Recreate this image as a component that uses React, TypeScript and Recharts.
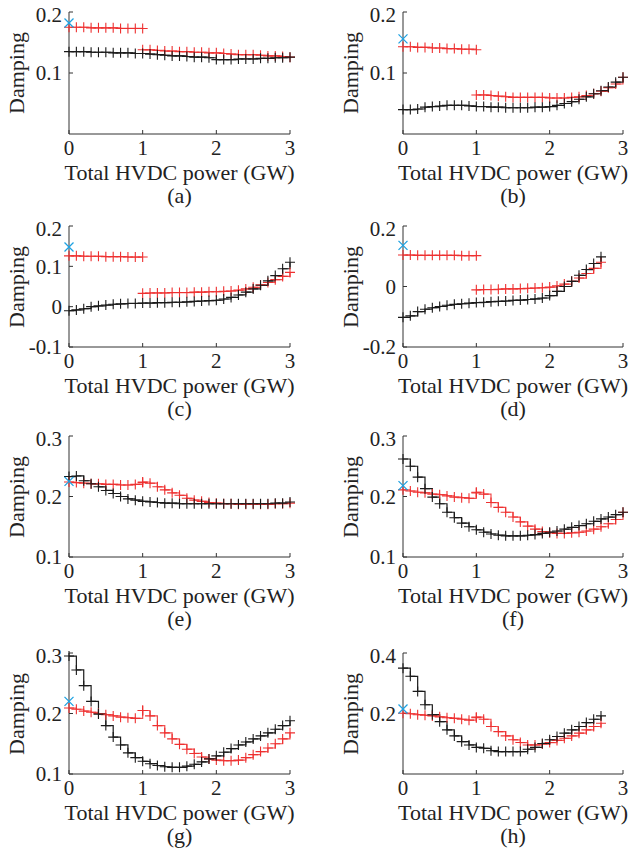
import React from 'react';
import { ComposedChart, Line, XAxis, YAxis } from 'recharts';

// x positions (GW)
const powerFull = [0, 0.1, 0.2, 0.3, 0.4, 0.5, 0.6, 0.7, 0.8, 0.9, 1.0, 1.1, 1.2, 1.3, 1.4, 1.5, 1.6, 1.7, 1.8, 1.9, 2.0, 2.1, 2.2, 2.3, 2.4, 2.5, 2.6, 2.7, 2.8, 2.9, 3.0];
const powerShort = [0, 0.1, 0.2, 0.3, 0.4, 0.5, 0.6, 0.7, 0.8, 0.9, 1.0, 1.1, 1.2, 1.3, 1.4, 1.5, 1.6, 1.7, 1.8, 1.9, 2.0, 2.1, 2.2, 2.3, 2.4, 2.5, 2.6, 2.7];
const powerLow = [0, 0.1, 0.2, 0.3, 0.4, 0.5, 0.6, 0.7, 0.8, 0.9, 1.0];
const powerHigh = [1.0, 1.1, 1.2, 1.3, 1.4, 1.5, 1.6, 1.7, 1.8, 1.9, 2.0, 2.1, 2.2, 2.3, 2.4, 2.5, 2.6, 2.7, 2.8, 2.9, 3.0];
const powerHighShort = [1.0, 1.1, 1.2, 1.3, 1.4, 1.5, 1.6, 1.7, 1.8, 1.9, 2.0, 2.1, 2.2, 2.3, 2.4, 2.5, 2.6, 2.7];

// (a)
const blackA = [0.135, 0.135, 0.135, 0.134, 0.134, 0.134, 0.133, 0.133, 0.133, 0.132, 0.132, 0.131, 0.130, 0.129, 0.128, 0.128, 0.127, 0.126, 0.126, 0.125, 0.122, 0.122, 0.122, 0.123, 0.123, 0.123, 0.124, 0.124, 0.125, 0.125, 0.126];
const redLowA = [0.175, 0.175, 0.175, 0.174, 0.174, 0.174, 0.174, 0.173, 0.173, 0.173, 0.173];
const redHighA = [0.138, 0.138, 0.137, 0.136, 0.136, 0.135, 0.135, 0.134, 0.134, 0.133, 0.133, 0.132, 0.131, 0.130, 0.130, 0.130, 0.129, 0.128, 0.128, 0.127, 0.126];
const blueA = 0.182;

// (b)
const blackB = [0.040, 0.040, 0.041, 0.044, 0.045, 0.046, 0.047, 0.047, 0.047, 0.046, 0.045, 0.045, 0.044, 0.044, 0.043, 0.043, 0.043, 0.043, 0.044, 0.044, 0.045, 0.047, 0.050, 0.053, 0.057, 0.061, 0.066, 0.071, 0.077, 0.085, 0.093];
const redLowB = [0.143, 0.143, 0.142, 0.142, 0.141, 0.141, 0.140, 0.140, 0.139, 0.139, 0.138];
const redHighB = [0.064, 0.064, 0.063, 0.062, 0.061, 0.060, 0.060, 0.060, 0.060, 0.060, 0.059, 0.059, 0.059, 0.060, 0.061, 0.063, 0.066, 0.070, 0.076, 0.082, 0.093];
const blueB = 0.156;

// (c)
const blackC = [-0.010, -0.008, -0.005, 0.000, 0.002, 0.004, 0.006, 0.007, 0.008, 0.008, 0.009, 0.009, 0.010, 0.010, 0.011, 0.011, 0.012, 0.013, 0.014, 0.015, 0.016, 0.019, 0.023, 0.029, 0.036, 0.044, 0.053, 0.064, 0.077, 0.094, 0.110];
const redLowC = [0.126, 0.126, 0.125, 0.125, 0.125, 0.124, 0.124, 0.124, 0.123, 0.123, 0.123];
const redHighC = [0.033, 0.034, 0.034, 0.034, 0.035, 0.035, 0.035, 0.036, 0.036, 0.037, 0.037, 0.038, 0.039, 0.041, 0.044, 0.048, 0.054, 0.060, 0.067, 0.075, 0.085];
const blueC = 0.148;

// (d)
const blackD = [-0.102, -0.097, -0.083, -0.075, -0.070, -0.066, -0.062, -0.059, -0.057, -0.055, -0.053, -0.052, -0.050, -0.049, -0.048, -0.046, -0.045, -0.043, -0.041, -0.038, -0.030, -0.016, 0.000, 0.017, 0.037, 0.056, 0.076, 0.098];
const redLowD = [0.104, 0.104, 0.103, 0.103, 0.103, 0.103, 0.103, 0.103, 0.102, 0.102, 0.102];
const redHighD = [-0.011, -0.010, -0.010, -0.009, -0.008, -0.008, -0.007, -0.006, -0.005, -0.004, -0.002, 0.002, 0.008, 0.017, 0.028, 0.043, 0.060, 0.080];
const blueD = 0.136;

// (e)
const blackE = [0.233, 0.234, 0.226, 0.221, 0.216, 0.210, 0.205, 0.200, 0.196, 0.194, 0.192, 0.191, 0.190, 0.189, 0.189, 0.188, 0.188, 0.188, 0.188, 0.188, 0.188, 0.188, 0.188, 0.188, 0.188, 0.188, 0.188, 0.188, 0.189, 0.189, 0.191];
const redLowE = [0.224, 0.223, 0.222, 0.221, 0.221, 0.220, 0.220, 0.219, 0.219, 0.220, 0.223];
const redHighE = [0.224, 0.222, 0.216, 0.211, 0.206, 0.202, 0.197, 0.194, 0.192, 0.190, 0.189, 0.188, 0.188, 0.187, 0.187, 0.187, 0.187, 0.187, 0.188, 0.188, 0.189];
const blueE = 0.225;

// (f)
const blackF = [0.262, 0.250, 0.232, 0.213, 0.199, 0.188, 0.174, 0.165, 0.156, 0.150, 0.145, 0.141, 0.138, 0.136, 0.135, 0.135, 0.135, 0.136, 0.137, 0.139, 0.141, 0.143, 0.146, 0.149, 0.152, 0.155, 0.159, 0.163, 0.166, 0.170, 0.174];
const redLowF = [0.211, 0.209, 0.207, 0.206, 0.204, 0.203, 0.201, 0.199, 0.198, 0.197, 0.206];
const redHighF = [0.207, 0.204, 0.190, 0.182, 0.174, 0.166, 0.158, 0.151, 0.146, 0.142, 0.140, 0.139, 0.139, 0.140, 0.141, 0.143, 0.146, 0.150, 0.155, 0.162, 0.174];
const blueF = 0.218;

// (g)
const blackG = [0.295, 0.272, 0.246, 0.220, 0.199, 0.180, 0.161, 0.148, 0.135, 0.127, 0.121, 0.117, 0.114, 0.112, 0.111, 0.111, 0.113, 0.116, 0.120, 0.125, 0.130, 0.136, 0.142, 0.148, 0.153, 0.158, 0.163, 0.168, 0.174, 0.180, 0.188];
const redLowG = [0.209, 0.207, 0.204, 0.202, 0.200, 0.198, 0.196, 0.194, 0.193, 0.192, 0.205];
const redHighG = [0.205, 0.196, 0.180, 0.168, 0.158, 0.149, 0.141, 0.134, 0.128, 0.125, 0.123, 0.122, 0.122, 0.123, 0.127, 0.132, 0.137, 0.143, 0.150, 0.158, 0.168];
const blueG = 0.220;

// (h)
const blackH = [0.350, 0.323, 0.273, 0.229, 0.196, 0.173, 0.146, 0.126, 0.107, 0.096, 0.088, 0.085, 0.077, 0.074, 0.074, 0.074, 0.074, 0.082, 0.088, 0.101, 0.113, 0.124, 0.135, 0.146, 0.157, 0.170, 0.181, 0.192];
const redLowH = [0.201, 0.199, 0.196, 0.194, 0.192, 0.189, 0.186, 0.184, 0.181, 0.178, 0.186];
const redHighH = [0.188, 0.181, 0.157, 0.140, 0.126, 0.113, 0.104, 0.096, 0.096, 0.099, 0.104, 0.111, 0.118, 0.126, 0.135, 0.146, 0.157, 0.168];
const blueH = 0.215;

const BLACK = '#1a1a1a';
const RED = '#ee3030';
const BLUE = '#1ea2e2';
const FONT = '"Liberation Serif", "Times New Roman", serif';

const zip = (xs: number[], ys: number[]) => xs.map((x, i) => ({ x, y: ys[i] }));

const PlusDot = (color: string) => (props: any) => {
  const { cx, cy, index } = props;
  if (cx == null || cy == null) return <g key={`n-${index}`} />;
  return (
    <path key={`p-${index}`} d={`M${cx - 5},${cy}H${cx + 5}M${cx},${cy - 5}V${cy + 5}`} stroke={color} strokeWidth={1.1} fill="none" />
  );
};

const CrossDot = (props: any) => {
  const { cx, cy, index } = props;
  if (cx == null || cy == null) return <g key={`n-${index}`} />;
  return (
    <path key={`c-${index}`} d={`M${cx - 4.5},${cy - 4.5}L${cx + 4.5},${cy + 4.5}M${cx - 4.5},${cy + 4.5}L${cx + 4.5},${cy - 4.5}`} stroke={BLUE} strokeWidth={1.3} fill="none" />
  );
};

interface PanelDef {
  caption: string;
  left: number;
  top: number;
  w: number;
  h: number;
  domain: [number, number];
  ticks: number[];
  black: { x: number; y: number }[];
  redLow: { x: number; y: number }[];
  redHigh: { x: number; y: number }[];
  blue: number;
}

const COL = [69, 403];
const ROW = [
  { top: 12, h: 122 },
  { top: 226, h: 121 },
  { top: 436, h: 121 },
  { top: 653, h: 121 },
];

const panels: PanelDef[] = [
  { caption: '(a)', left: COL[0], top: ROW[0].top, w: 221, h: ROW[0].h, domain: [0, 0.2], ticks: [0.1, 0.2], black: zip(powerFull, blackA), redLow: zip(powerLow, redLowA), redHigh: zip(powerHigh, redHighA), blue: blueA },
  { caption: '(b)', left: COL[1], top: ROW[0].top, w: 220, h: ROW[0].h, domain: [0, 0.2], ticks: [0.1, 0.2], black: zip(powerFull, blackB), redLow: zip(powerLow, redLowB), redHigh: zip(powerHigh, redHighB), blue: blueB },
  { caption: '(c)', left: COL[0], top: ROW[1].top, w: 221, h: ROW[1].h, domain: [-0.1, 0.2], ticks: [-0.1, 0, 0.1, 0.2], black: zip(powerFull, blackC), redLow: zip(powerLow, redLowC), redHigh: zip(powerHigh, redHighC), blue: blueC },
  { caption: '(d)', left: COL[1], top: ROW[1].top, w: 220, h: ROW[1].h, domain: [-0.2, 0.2], ticks: [-0.2, 0, 0.2], black: zip(powerShort, blackD), redLow: zip(powerLow, redLowD), redHigh: zip(powerHighShort, redHighD), blue: blueD },
  { caption: '(e)', left: COL[0], top: ROW[2].top, w: 221, h: ROW[2].h, domain: [0.1, 0.3], ticks: [0.1, 0.2, 0.3], black: zip(powerFull, blackE), redLow: zip(powerLow, redLowE), redHigh: zip(powerHigh, redHighE), blue: blueE },
  { caption: '(f)', left: COL[1], top: ROW[2].top, w: 220, h: ROW[2].h, domain: [0.1, 0.3], ticks: [0.1, 0.2, 0.3], black: zip(powerFull, blackF), redLow: zip(powerLow, redLowF), redHigh: zip(powerHigh, redHighF), blue: blueF },
  { caption: '(g)', left: COL[0], top: ROW[3].top, w: 221, h: ROW[3].h, domain: [0.1, 0.3], ticks: [0.1, 0.2, 0.3], black: zip(powerFull, blackG), redLow: zip(powerLow, redLowG), redHigh: zip(powerHigh, redHighG), blue: blueG },
  { caption: '(h)', left: COL[1], top: ROW[3].top, w: 220, h: ROW[3].h, domain: [0, 0.4], ticks: [0.2, 0.4], black: zip(powerShort, blackH), redLow: zip(powerLow, redLowH), redHigh: zip(powerHighShort, redHighH), blue: blueH },
];

const Label = ({ x, y, text, rotate }: { x: number; y: number; text: string; rotate?: boolean }) => (
  <div
    style={{
      position: 'absolute',
      left: x,
      top: y,
      transform: rotate ? 'translate(-50%, -50%) rotate(-90deg)' : 'translate(-50%, -50%)',
      whiteSpace: 'nowrap',
      fontFamily: FONT,
      fontSize: 22,
      lineHeight: 1,
      color: '#222',
    }}
  >
    {text}
  </div>
);

const Y_AXIS_W = 62;
const TOP_PAD = 10;
const RIGHT_PAD = 14;
const X_AXIS_H = 30;

const Panel = ({ p }: { p: PanelDef }) => {
  const tickStyle = { fontFamily: FONT, fontSize: 21, fill: '#222' };
  return (
    <>
      <div style={{ position: 'absolute', left: p.left - Y_AXIS_W, top: p.top - TOP_PAD }}>
        <ComposedChart
          width={Y_AXIS_W + p.w + RIGHT_PAD}
          height={TOP_PAD + p.h + X_AXIS_H}
          margin={{ top: TOP_PAD, right: RIGHT_PAD, bottom: 0, left: 0 }}
        >
          <XAxis
            dataKey="x"
            type="number"
            domain={[0, 3]}
            ticks={[0, 1, 2, 3]}
            height={X_AXIS_H}
            tickSize={-4}
            tickMargin={10}
            stroke="#333"
            tick={tickStyle}
          />
          <YAxis
            dataKey="y"
            type="number"
            domain={p.domain}
            ticks={p.ticks}
            width={Y_AXIS_W}
            tickSize={-4}
            tickMargin={11}
            stroke="#333"
            tick={tickStyle}
          />
          <Line data={p.redLow} dataKey="y" type="stepAfter" stroke={RED} strokeOpacity={0.85} strokeWidth={1.2} dot={PlusDot(RED)} activeDot={false} isAnimationActive={false} />
          <Line data={p.redHigh} dataKey="y" type="stepAfter" stroke={RED} strokeOpacity={0.85} strokeWidth={1.2} dot={PlusDot(RED)} activeDot={false} isAnimationActive={false} />
          <Line data={p.black} dataKey="y" type="stepAfter" stroke={BLACK} strokeWidth={1.2} dot={PlusDot(BLACK)} activeDot={false} isAnimationActive={false} />
          <Line data={[{ x: 0, y: p.blue }]} dataKey="y" stroke="none" dot={CrossDot} activeDot={false} isAnimationActive={false} />
        </ComposedChart>
      </div>
      <Label x={p.left - 52} y={p.top + p.h / 2} text="Damping" rotate />
      <Label x={p.left + p.w / 2} y={p.top + p.h + 39} text="Total HVDC power (GW)" />
      <Label x={p.left + p.w / 2} y={p.top + p.h + 62} text={p.caption} />
    </>
  );
};

export default function App() {
  return (
    <div style={{ position: 'absolute', left: 0, top: 0, width: 636, height: 854, background: '#fff', overflow: 'hidden' }}>
      {panels.map((p) => (
        <Panel key={p.caption} p={p} />
      ))}
    </div>
  );
}
